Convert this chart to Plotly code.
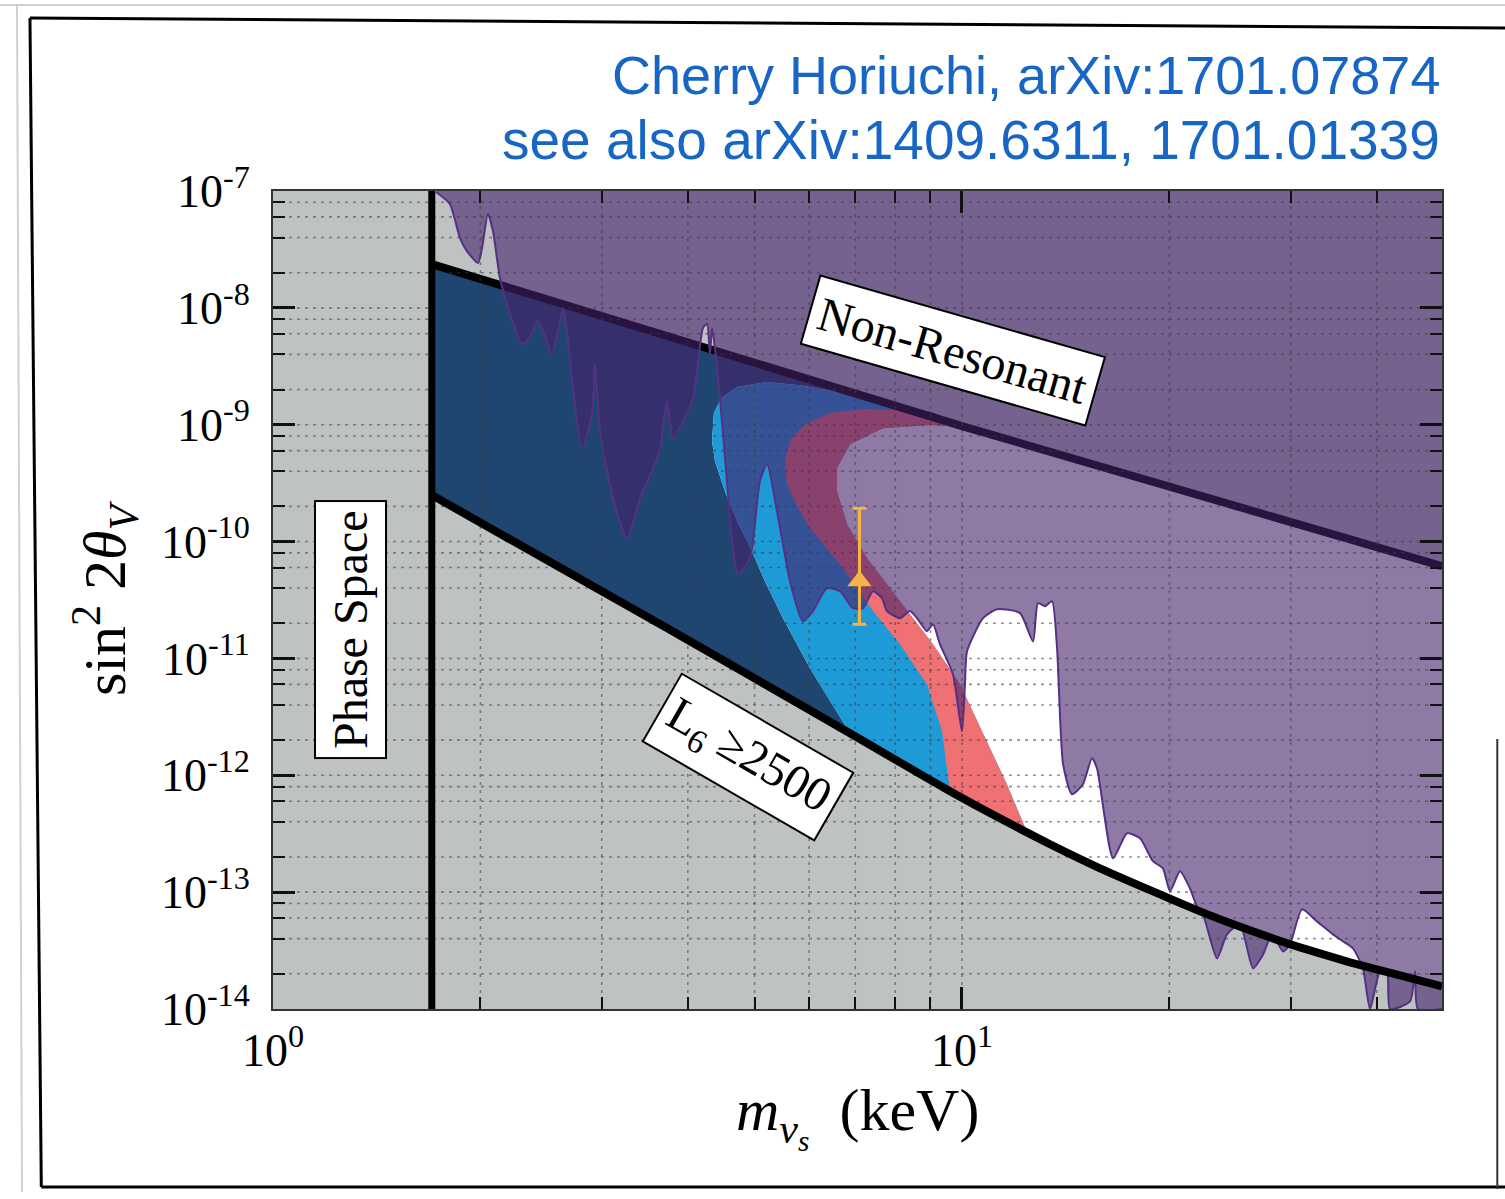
import plotly.graph_objects as go

# ---------------- axis ticks ----------------
x_tick_vals = [1, 10]
x_tick_text = ["10<sup>0</sup>", "10<sup>1</sup>"]
x_minor_vals = [2, 3, 4, 5, 6, 7, 8, 9, 20, 30, 40]
y_tick_vals = [1e-14, 1e-13, 1e-12, 1e-11, 1e-10, 1e-9, 1e-8, 1e-7]
y_tick_text = ["10<sup>-14</sup>", "10<sup>-13</sup>", "10<sup>-12</sup>", "10<sup>-11</sup>",
               "10<sup>-10</sup>", "10<sup>-9</sup>", "10<sup>-8</sup>", "10<sup>-7</sup>"]
y_minor_vals = [2e-14, 4e-14, 6e-14, 8e-14, 2e-13, 4e-13, 6e-13, 8e-13,
                2e-12, 4e-12, 6e-12, 8e-12, 2e-11, 4e-11, 6e-11, 8e-11,
                2e-10, 4e-10, 6e-10, 8e-10, 2e-9, 4e-9, 6e-9, 8e-9,
                2e-8, 4e-8, 6e-8, 8e-8]
x_min, x_max = 1.0, 49.74
y_min, y_max = 1e-14, 1e-7

# ---------------- boundaries ----------------
phase_space_mass = 1.70

nr_mass = [1.70, 10.0, 49.74]
nr_sin2 = [2.37e-8, 9.73e-10, 6.16e-11]

l6_mass = [1.70, 3.73, 6.877, 8.128, 9.608, 11.35, 13.42, 15.86, 18.75, 22.15,
           26.18, 30.94, 36.57, 43.22, 49.74]
l6_sin2 = [2.50e-10, 1.82e-11, 2.29e-12, 1.29e-12, 7.29e-13, 4.28e-13, 2.57e-13, 1.60e-13,
           1.04e-13, 6.85e-14, 4.71e-14, 3.37e-14, 2.51e-14, 1.94e-14, 1.56e-14]

# light-blue region edges
lb_left_mass = [6.433, 6.017, 5.498, 5.176, 4.956, 4.714, 4.529, 4.380, 4.337]
lb_left_sin2 = [4.30e-12, 8.25e-12, 2.21e-11, 4.58e-11, 8.28e-11, 1.50e-10, 2.70e-10, 4.88e-10, 7.24e-10]
lb_top_mass = [4.365, 4.484, 4.714, 5.212, 5.819, 6.498, 7.679, 9.077]
lb_top_sin2 = [1.26e-9, 1.72e-9, 2.10e-9, 2.32e-9, 2.18e-9, 1.94e-9, 1.53e-9, 1.28e-9]

# pink band edges
pink_outer_mass = [10.10, 8.690, 7.279, 6.433, 5.917, 5.628, 5.535, 5.572, 5.762, 6.017,
                   6.651, 7.427, 8.128, 8.896, 9.354]
pink_outer_sin2 = [1.01e-9, 1.31e-9, 1.36e-9, 1.26e-9, 1.01e-9, 7.24e-10, 4.88e-10, 3.10e-10,
                   2.01e-10, 1.30e-10, 6.40e-11, 2.54e-11, 1.32e-11, 6.01e-12, 2.38e-12]
pink_inner_mass = [12.43, 11.62, 10.73, 9.933, 9.077, 8.490, 7.783, 7.279, 6.809, 6.585, 6.585,
                   6.877, 7.679, 8.985, 10.10]
pink_inner_sin2 = [3.25e-13, 8.37e-13, 2.24e-12, 6.01e-12, 1.32e-11, 2.21e-11, 4.32e-11, 7.21e-11,
                   1.41e-10, 2.70e-10, 4.25e-10, 6.82e-10, 9.35e-10, 9.92e-10, 9.54e-10]

# X-ray exclusion boundary
xray_mass = [1.724, 1.806, 1.868, 1.912, 1.984, 2.011, 2.051, 2.086, 2.135, 2.208,
             2.298, 2.360, 2.416, 2.465, 2.540, 2.609, 2.636, 2.671, 2.725, 2.808,
             2.904, 2.933, 2.983, 3.115, 3.265, 3.410, 3.561, 3.645, 3.731, 3.807,
             3.936, 4.070, 4.208, 4.265, 4.308, 4.337, 4.380, 4.454, 4.559, 4.651,
             4.730, 4.923, 5.090, 5.212, 5.389, 5.628, 5.877, 6.076, 6.369, 6.651,
             6.947, 7.182, 7.427, 7.654, 7.783, 8.128, 8.404, 8.604, 8.896, 9.077,
             9.292, 9.703, 10.0, 10.10, 10.17, 10.73, 11.24, 12.14, 12.68, 12.89,
             13.20, 13.51, 13.74, 14.02, 14.44, 14.98, 15.44, 15.70, 16.57, 17.36,
             18.13, 18.93, 19.57, 20.04, 20.72, 21.42, 21.93, 22.38, 23.45, 24.24,
             25.32, 26.45, 27.35, 28.18, 29.24, 29.93, 31.15, 32.75, 34.55, 35.73,
             36.94, 38.19, 39.10, 40.44, 41.39, 41.81, 44.69, 45.45, 45.90, 49.74]
xray_sin2 = [9.80e-8, 7.74e-8, 3.96e-8, 3.06e-8, 2.42e-8, 3.25e-8, 6.36e-8, 4.54e-8, 1.80e-8, 8.85e-9,
             4.90e-9, 5.51e-9, 7.71e-9, 6.33e-9, 4.02e-9, 7.71e-9, 9.96e-9, 6.33e-9, 2.06e-9, 6.30e-10,
             1.23e-9, 3.37e-9, 8.81e-10, 2.35e-10, 1.07e-10, 2.35e-10, 4.25e-10, 6.30e-10, 1.59e-9, 7.68e-10,
             1.07e-9, 1.69e-9, 6.72e-9, 7.27e-9, 4.02e-9, 6.72e-9, 4.53e-9, 1.69e-9, 3.29e-10, 8.78e-11,
             5.26e-11, 7.21e-11, 3.29e-10, 4.60e-10, 1.82e-10, 4.58e-11, 2.08e-11, 2.54e-11, 3.99e-11, 3.76e-11,
             2.69e-11, 2.69e-11, 3.76e-11, 3.28e-11, 2.54e-11, 2.21e-11, 2.54e-11, 2.21e-11, 1.71e-11, 1.96e-11,
             1.32e-11, 7.32e-12, 2.38e-12, 6.01e-12, 1.15e-11, 2.21e-11, 2.64e-11, 2.44e-11, 1.40e-11, 2.97e-11,
             2.80e-11, 3.09e-11, 1.22e-11, 1.24e-12, 6.88e-13, 8.37e-13, 1.40e-12, 1.15e-12, 1.95e-13, 3.19e-13,
             2.89e-13, 1.84e-13, 1.60e-13, 1.02e-13, 1.51e-13, 1.08e-13, 7.56e-14, 6.45e-14, 2.71e-14, 4.35e-14,
             5.30e-14, 2.23e-14, 2.93e-14, 4.35e-14, 3.11e-14, 3.57e-14, 7.12e-14, 5.62e-14, 4.35e-14, 3.79e-14,
             3.30e-14, 2.23e-14, 1.0e-14, 2.10e-14, 2.10e-14, 1.0e-14, 1.16e-14, 2.10e-14, 1.0e-14, 1.0e-14]
# closing corners of the shaded X-ray region (outside the visible range)
xray_close_mass = [80.0, 80.0, 1.724]
xray_close_sin2 = [1.0e-14, 1.0e-5, 1.0e-5]

# 3.55 keV line signal
signal_mass = [7.1]
signal_sin2 = [4.6e-11]
signal_err_plus = [1.47e-10]
signal_err_minus = [2.64e-11]

# ---------------- styles ----------------
GREY = "#bfc2c3"
NAVY = "#1f4670"
LIGHTBLUE = "#1e9bd7"
PINK = "#f07174"
PURPLE_FILL = "rgba(68,33,107,0.6)"
PURPLE_LINE = "#553085"
ORANGE = "#f6b445"
SERIF = "Liberation Serif, Times New Roman, serif"
SANS = "Liberation Sans, Arial, sans-serif"
BLUE_TEXT = "#1766c6"

fig = go.Figure()


def polygon(xs, ys, color, shape="linear"):
    fig.add_trace(go.Scatter(x=xs, y=ys, mode="lines", fill="toself", fillcolor=color,
                             line=dict(width=0, shape=shape, smoothing=0.6),
                             hoverinfo="skip", showlegend=False))


# white band between the two lines
polygon(l6_mass + nr_mass[::-1], l6_sin2 + nr_sin2[::-1], "white")
# navy region
polygon(l6_mass[:3] + lb_left_mass + lb_top_mass + [nr_mass[1], nr_mass[0]],
        l6_sin2[:3] + lb_left_sin2 + lb_top_sin2 + [nr_sin2[1], nr_sin2[0]], NAVY)
# light-blue region
polygon([nr_mass[1]] + pink_inner_mass[::-1] + l6_mass[5:1:-1] + lb_left_mass + lb_top_mass,
        [nr_sin2[1]] + pink_inner_sin2[::-1] + l6_sin2[5:1:-1] + lb_left_sin2 + lb_top_sin2,
        LIGHTBLUE)
# pink band
polygon(pink_outer_mass + l6_mass[4:6] + pink_inner_mass,
        pink_outer_sin2 + l6_sin2[4:6] + pink_inner_sin2, PINK)

# non-resonant line (beneath the X-ray shading)
fig.add_trace(go.Scatter(x=nr_mass, y=nr_sin2, mode="lines", line=dict(color="black", width=8),
                         hoverinfo="skip", showlegend=False))

# X-ray exclusion shading
polygon(xray_mass + xray_close_mass, xray_sin2 + xray_close_sin2, PURPLE_FILL, shape="spline")
fig.add_trace(go.Scatter(x=xray_mass, y=xray_sin2, mode="lines",
                         line=dict(color=PURPLE_LINE, width=2, shape="spline", smoothing=0.6),
                         hoverinfo="skip", showlegend=False))

# dotted grid on top of the shading
grid_x_vals = sorted(x_minor_vals + [10])
grid_y_vals = sorted(y_minor_vals + y_tick_vals[1:-1])
gx, gy = [], []
for v in grid_x_vals:
    gx += [v, v, None]
    gy += [y_min, y_max, None]
hx, hy = [], []
for v in grid_y_vals:
    hx += [x_min, x_max, None]
    hy += [v, v, None]
grid_style = dict(color="rgba(60,60,60,0.55)", width=1.6, dash="3px,5px")
fig.add_trace(go.Scatter(x=gx, y=gy, mode="lines", line=grid_style, hoverinfo="skip", showlegend=False))
fig.add_trace(go.Scatter(x=hx, y=hy, mode="lines", line=grid_style, hoverinfo="skip", showlegend=False))

# L6 line and phase space boundary
fig.add_trace(go.Scatter(x=l6_mass, y=l6_sin2, mode="lines",
                         line=dict(color="black", width=8, shape="spline", smoothing=0.5),
                         hoverinfo="skip", showlegend=False))
fig.add_trace(go.Scatter(x=[phase_space_mass, phase_space_mass], y=[y_min, y_max], mode="lines",
                         line=dict(color="black", width=7), hoverinfo="skip", showlegend=False))

# signal point
fig.add_trace(go.Scatter(x=signal_mass, y=signal_sin2, mode="markers",
                         marker=dict(symbol="triangle-up", size=21, color=ORANGE),
                         error_y=dict(type="data", symmetric=False, array=signal_err_plus,
                                      arrayminus=signal_err_minus, color=ORANGE, thickness=3, width=7),
                         hoverinfo="skip", showlegend=False))

axis_common = dict(type="log", tickmode="array", ticks="inside", ticklen=22, tickwidth=2.5,
                   tickcolor="#111", showline=True, linecolor="#333", linewidth=2,
                   mirror="allticks", showgrid=False, zeroline=False, layer="above traces",
                   tickfont=dict(family=SERIF, size=46, color="black"))
fig.update_xaxes(range=[0, 1.6967], tickvals=x_tick_vals, ticktext=x_tick_text,
                 minor=dict(tickmode="array", tickvals=x_minor_vals, ticks="inside", ticklen=12,
                            tickwidth=2, tickcolor="#111", showgrid=False),
                 **axis_common)
fig.update_yaxes(range=[-14, -7], tickvals=y_tick_vals, ticktext=y_tick_text, ticklabelstandoff=12,
                 minor=dict(tickmode="array", tickvals=y_minor_vals, ticks="inside", ticklen=12,
                            tickwidth=2, tickcolor="#111", showgrid=False),
                 **axis_common)

label_box = dict(bgcolor="white", bordercolor="black", borderwidth=2, borderpad=8,
                 font=dict(family=SERIF, size=48, color="black"), showarrow=False,
                 xref="paper", yref="paper", xanchor="center", yanchor="middle")
annotations = [
    dict(text="Phase Space", x=0.0659, y=0.4633, textangle=-90, **label_box),
    dict(text="Non-Resonant", x=0.5817, y=0.8056, textangle=16, **label_box),
    dict(text="L<sub>6</sub> ≥2500", x=0.4063, y=0.308, textangle=30, **label_box),
    dict(text="<i>m</i><sub><i>ν</i><sub><i>s</i></sub></sub>  (keV)", x=0.5004, y=-0.132,
         xref="paper", yref="paper", showarrow=False, xanchor="center", yanchor="middle",
         font=dict(family=SERIF, size=60, color="black")),
    dict(text="sin<sup>2</sup> 2<i>θ</i><sub><i>V</i></sub>", x=-0.1437, y=0.5024, textangle=-90,
         xref="paper", yref="paper", showarrow=False, xanchor="center", yanchor="middle",
         font=dict(family=SERIF, size=60, color="black")),
    dict(text="Cherry Horiuchi, arXiv:1701.07874", x=1.0, y=1.1418, xref="paper", yref="paper",
         showarrow=False, xanchor="right", yanchor="middle",
         font=dict(family=SANS, size=54, color=BLUE_TEXT)),
    dict(text="see also arXiv:1409.6311, 1701.01339", x=1.0, y=1.0623, xref="paper", yref="paper",
         showarrow=False, xanchor="right", yanchor="middle",
         font=dict(family=SANS, size=55, color=BLUE_TEXT)),
]

# slide frame (screenshot border)
shapes = [
    dict(type="line", xref="paper", yref="paper", x0=-0.2335, x1=1.0539, y0=1.2274, y1=1.2274,
         line=dict(color="#d0d0d0", width=2)),
    dict(type="line", xref="paper", yref="paper", x0=-0.2190, x1=-0.2147, y0=1.2274, y1=-0.2237,
         line=dict(color="#d0d0d0", width=2)),
    dict(type="line", xref="paper", yref="paper", x0=-0.2079, x1=1.0539, y0=1.2115, y1=1.1993,
         line=dict(color="black", width=3)),
    dict(type="line", xref="paper", yref="paper", x0=-0.2079, x1=-0.1982, y0=1.2115, y1=-0.2176,
         line=dict(color="black", width=3)),
    dict(type="line", xref="paper", yref="paper", x0=-0.1982, x1=1.0539, y0=-0.2176, y1=-0.2176,
         line=dict(color="black", width=3)),
    dict(type="line", xref="paper", yref="paper", x0=1.0473, x1=1.0473, y0=0.33, y1=-0.2200,
         line=dict(color="#333", width=2)),
]

fig.update_layout(width=1505, height=1199, margin=dict(l=273, r=63, t=191, b=190),
                  paper_bgcolor="white", plot_bgcolor=GREY, showlegend=False,
                  font=dict(family=SERIF, color="black"),
                  annotations=annotations, shapes=shapes)

fig.write_html("out.html")
